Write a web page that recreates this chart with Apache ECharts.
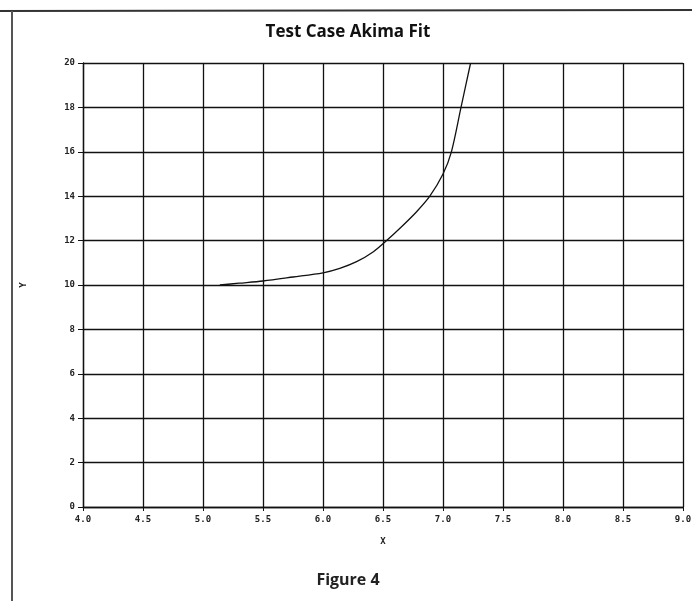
<!DOCTYPE html>
<html>
<head>
<meta charset="utf-8">
<script src="https://cdn.jsdelivr.net/npm/echarts@6/dist/echarts.min.js"></script>
<style>
	html, body { margin: 0; padding: 0; background: #fff; }
	#chart { width: 696px; height: 601px; }
</style>
</head>
<body>
<div id="chart"></div>
<script>
// values
var xVals = [5.14, 5.3, 5.5, 5.75, 6.0, 6.14, 6.28, 6.42, 6.53, 6.65, 6.78, 6.89, 7.0, 7.07, 7.15, 7.23];
var yVals = [10.0, 10.08, 10.18, 10.36, 10.55, 10.75, 11.05, 11.5, 12.0, 12.6, 13.3, 14.0, 15.0, 16.0, 18.0, 20.0];
var xTicks = ['4.0', '4.5', '5.0', '5.5', '6.0', '6.5', '7.0', '7.5', '8.0', '8.5', '9.0'];

var monoFont = "'DejaVu Sans Mono', monospace";
var titleFont = "'Open Sans', 'Liberation Sans', sans-serif";

var seriesData = [];
for (var i = 0; i < xVals.length; i++) {
	seriesData.push([xVals[i], yVals[i]]);
}

var chart = echarts.init(document.getElementById('chart'));
var option = {
	backgroundColor: '#fff',
	animation: false,
	title: {
		text: 'Test Case Akima Fit',
		left: 'center',
		top: 19,
		textStyle: { fontFamily: titleFont, fontSize: 17, fontWeight: 'bold', color: '#111' }
	},
	grid: { left: 83, right: 13, top: 63, bottom: 94 },
	xAxis: {
		type: 'value',
		min: 4, max: 9, interval: 0.5,
		name: 'X',
		nameLocation: 'middle',
		nameGap: 30,
		nameTextStyle: { fontFamily: monoFont, fontSize: 9, fontWeight: 'bold', color: '#222' },
		axisLine: { lineStyle: { color: '#111', width: 1.3 } },
		axisTick: { show: true, length: 4, lineStyle: { color: '#111' } },
		axisLabel: {
			fontFamily: monoFont, fontSize: 9, fontWeight: 'bold', color: '#222', margin: 8,
			formatter: function (v) { return xTicks[Math.round((v - 4) / 0.5)]; }
		},
		splitLine: { show: true, lineStyle: { color: '#111', width: 1.3 } }
	},
	yAxis: {
		type: 'value',
		min: 0, max: 20, interval: 2,
		name: 'Y',
		nameLocation: 'middle',
		nameGap: 55,
		nameRotate: 90,
		nameTextStyle: { fontFamily: monoFont, fontSize: 9, fontWeight: 'bold', color: '#222' },
		axisLine: { show: true, lineStyle: { color: '#111', width: 1.3 } },
		axisTick: { show: true, length: 5, lineStyle: { color: '#111' } },
		axisLabel: { fontFamily: monoFont, fontSize: 9, fontWeight: 'bold', color: '#222', margin: 8 },
		splitLine: { show: true, lineStyle: { color: '#111', width: 1.3 } }
	},
	graphic: [
		{ type: 'line', shape: { x1: 0, y1: 11, x2: 692, y2: 10 }, style: { stroke: '#333', lineWidth: 2 } },
		{ type: 'line', shape: { x1: 12, y1: 11, x2: 12, y2: 601 }, style: { stroke: '#555', lineWidth: 2 } },
		{
			type: 'text', left: 'center', top: 572,
			style: { text: 'Figure 4', fontFamily: titleFont, fontSize: 16, fontWeight: 'bold', fill: '#222' }
		}
	],
	series: [
		{
			type: 'line',
			data: seriesData,
			smooth: 0.3,
			showSymbol: false,
			lineStyle: { color: '#111', width: 1.3 }
		}
	]
};
chart.setOption(option);
</script>
</body>
</html>
